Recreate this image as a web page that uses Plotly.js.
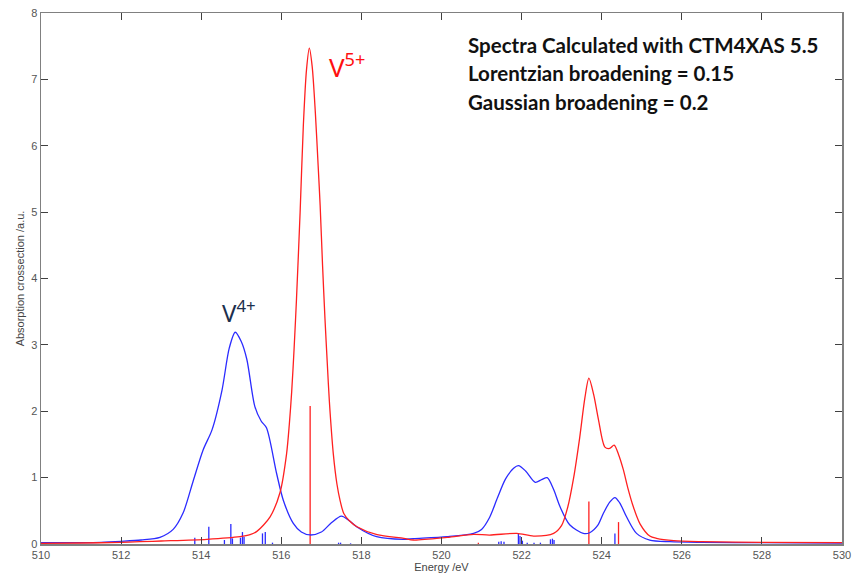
<!DOCTYPE html>
<html>
<head>
<meta charset="utf-8">
<script src="https://cdn.plot.ly/plotly-3.0.1.min.js"></script>
<style>html,body{margin:0;padding:0;background:#fff;}#chart{width:853px;height:576px;}</style>
</head>
<body>
<div id="chart"></div>
<script>
// V4+ broadened spectrum (energy in eV, absorption in a.u.)
var v4Energy = [510.0,511.0,511.5,512.0,512.5,512.97,513.3,513.55,513.8,514.05,514.27,514.52,514.7,514.85,515.0,515.14,515.34,515.5,515.63,515.88,516.05,516.3,516.5,516.72,517.0,517.25,517.5,517.7,517.88,518.38,519.05,519.3,520.14,520.8,521.0,521.2,521.4,521.6,521.8,521.92,522.1,522.34,522.5,522.64,522.8,522.96,523.2,523.54,523.7,523.9,524.04,524.2,524.33,524.45,524.62,524.87,525.2,525.7,526.5,528.0,530.0];
var v4Value  = [0.02,0.02,0.025,0.04,0.06,0.10,0.22,0.47,0.95,1.42,1.72,2.32,2.95,3.19,3.05,2.78,2.07,1.85,1.75,1.07,0.66,0.31,0.18,0.136,0.18,0.32,0.42,0.35,0.26,0.11,0.07,0.08,0.11,0.16,0.22,0.40,0.70,0.98,1.14,1.18,1.10,0.93,0.97,1.00,0.82,0.56,0.29,0.16,0.17,0.28,0.46,0.63,0.70,0.62,0.41,0.16,0.06,0.035,0.025,0.02,0.015];

// V5+ broadened spectrum
var v5Energy = [510.0,511.0,512.0,512.47,513.0,514.14,514.97,515.22,515.39,515.72,515.97,516.13,516.2,516.26,516.32,516.38,516.47,516.55,516.63,516.7,516.77,516.85,516.92,516.97,517.03,517.09,517.15,517.2,517.3,517.39,517.47,517.56,517.7,517.89,518.39,519.06,519.3,520.14,520.8,521.2,521.88,522.3,522.8,523.0,523.15,523.3,523.45,523.58,523.68,523.8,523.92,524.08,524.2,524.31,524.42,524.54,524.65,524.79,524.96,525.2,525.37,525.8,526.5,528.0,530.0];
var v5Value  = [0.01,0.015,0.025,0.035,0.045,0.07,0.11,0.14,0.19,0.41,0.78,1.35,1.8,2.3,2.95,3.7,5.0,6.3,7.15,7.47,7.2,6.5,5.7,5.1,4.2,3.4,2.7,2.15,1.35,0.9,0.65,0.46,0.35,0.26,0.14,0.085,0.06,0.10,0.146,0.135,0.16,0.12,0.16,0.28,0.55,1.0,1.6,2.2,2.50,2.25,1.87,1.46,1.44,1.49,1.35,1.12,0.85,0.56,0.30,0.12,0.085,0.05,0.035,0.025,0.02];

// Stick (multiplet) spectra
var v4StickE = [513.84,514.19,514.58,514.74,514.78,514.98,515.03,515.07,515.53,515.60,515.78,517.43,517.48,517.73,521.43,521.49,521.56,521.92,521.96,522.02,522.14,522.31,522.47,522.72,522.77,522.81,524.33];
var v4StickV = [0.095,0.26,0.06,0.30,0.085,0.095,0.18,0.11,0.16,0.18,0.02,0.02,0.02,0.01,0.035,0.04,0.035,0.16,0.12,0.05,0.02,0.02,0.02,0.07,0.08,0.06,0.16];
var v5StickE = [516.72,520.92,523.68,524.42];
var v5StickV = [2.08,0.02,0.64,0.33];

var xTicks = [510,512,514,516,518,520,522,524,526,528,530];
var yTicks = [0,1,2,3,4,5,6,7,8];

function sticks(E, V) {
  var x = [], y = [];
  for (var i = 0; i < E.length; i++) { x.push(E[i], E[i], null); y.push(0, V[i], null); }
  return {x: x, y: y};
}
var s4 = sticks(v4StickE, v4StickV), s5 = sticks(v5StickE, v5StickV);

var blue = '#2b2bff', red = '#ff2020';
var traces = [
  {x: s4.x, y: s4.y, mode: 'lines', line: {color: blue, width: 1.3}, hoverinfo: 'skip'},
  {x: s5.x, y: s5.y, mode: 'lines', line: {color: red, width: 1.3}, hoverinfo: 'skip'},
  {x: v4Energy, y: v4Value, mode: 'lines', line: {color: blue, width: 1.3, shape: 'spline', smoothing: 0.8}},
  {x: v5Energy, y: v5Value, mode: 'lines', line: {color: red, width: 1.3, shape: 'spline', smoothing: 0.8}}
];

var axisCommon = {
  showgrid: false, zeroline: false, showline: true, linecolor: '#808080', linewidth: 1.5,
  ticks: 'inside', ticklen: 7, tickwidth: 1, tickcolor: '#404040', mirror: 'allticks',
  tickfont: {family: 'Liberation Sans, Arial, sans-serif', size: 11, color: '#555'}
};

var layout = {
  width: 853, height: 576,
  margin: {l: 41, r: 11, t: 13, b: 32},
  paper_bgcolor: '#fff', plot_bgcolor: '#fff',
  showlegend: false,
  xaxis: Object.assign({}, axisCommon, {
    range: [510, 530], tickvals: xTicks, ticktext: xTicks.map(String),
    title: {text: 'Energy /eV', standoff: 2, font: {family: 'Liberation Sans, Arial, sans-serif', size: 11, color: '#444'}}
  }),
  yaxis: Object.assign({}, axisCommon, {
    range: [0, 8], tickvals: yTicks, ticktext: yTicks.map(String),
    title: {text: 'Absorption crossection /a.u.', standoff: 4, font: {family: 'Liberation Sans, Arial, sans-serif', size: 11, color: '#444'}}
  }),
  annotations: [
    {xref: 'paper', yref: 'paper', x: 0.531, y: (544 - 45) / 531, xanchor: 'left', yanchor: 'middle', showarrow: false,
     text: '<b>Spectra Calculated with CTM4XAS 5.5</b>', font: {family: 'Lato, sans-serif', size: 20.5, color: '#111'}},
    {xref: 'paper', yref: 'paper', x: 0.531, y: (544 - 73.3) / 531, xanchor: 'left', yanchor: 'middle', showarrow: false,
     text: '<b>Lorentzian broadening = 0.15</b>', font: {family: 'Lato, sans-serif', size: 20.5, color: '#111'}},
    {xref: 'paper', yref: 'paper', x: 0.531, y: (544 - 101.7) / 531, xanchor: 'left', yanchor: 'middle', showarrow: false,
     text: '<b>Gaussian broadening = 0.2</b>', font: {family: 'Lato, sans-serif', size: 20.5, color: '#111'}},
    {xref: 'x', yref: 'y', x: 517.15, y: 7.2, xanchor: 'left', yanchor: 'middle', showarrow: false,
     text: 'V<sup>5+</sup>', font: {family: 'Noto Sans, sans-serif', size: 26, color: '#ff1010'}},
    {xref: 'x', yref: 'y', x: 514.47, y: 3.5, xanchor: 'left', yanchor: 'middle', showarrow: false,
     text: 'V<sup>4+</sup>', font: {family: 'Noto Sans, sans-serif', size: 24, color: '#1c2f4d'}}
  ]
};

Plotly.newPlot('chart', traces, layout, {displayModeBar: false, staticPlot: true});
</script>
</body>
</html>
